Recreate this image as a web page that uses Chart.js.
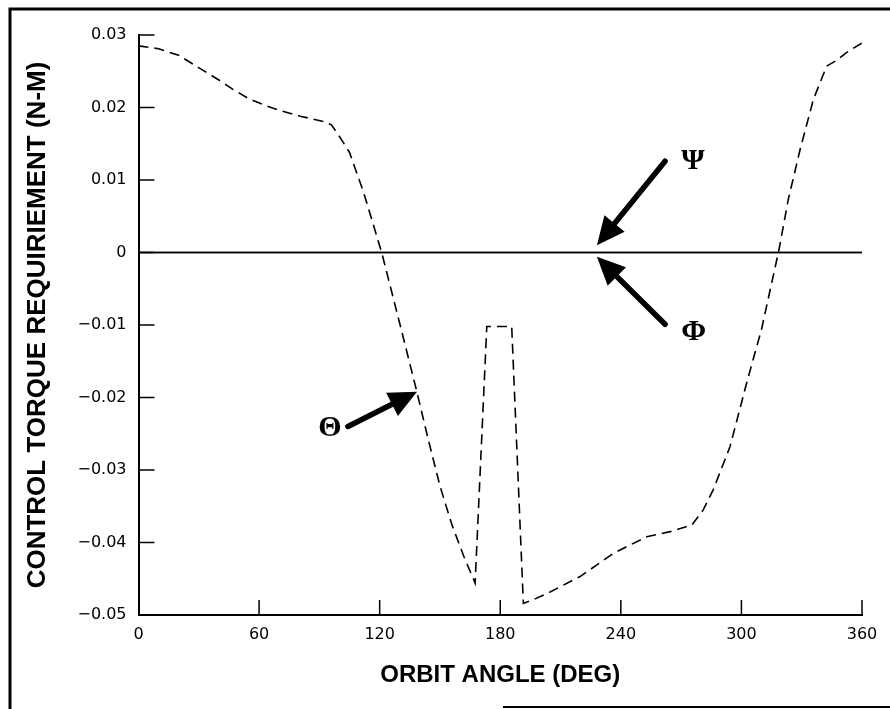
<!DOCTYPE html>
<html lang="en">
<head>
<meta charset="UTF-8">
<title>Control Torque Requirement</title>
<script src="https://cdn.jsdelivr.net/npm/chart.js"></script>
<style>
  html, body { margin: 0; padding: 0; background: #fff; }
  #caixa { position: relative; width: 890px; height: 709px; }
</style>
</head>
<body>

<div id="caixa">
  <canvas id="grafico"></canvas>
</div>

<script>
// pitch torque (theta) over one orbit, N-m
const angulos = [0, 10, 20, 30.5, 40, 47, 55, 63.8, 70.4, 80.4, 87, 93, 96, 100, 105, 112, 121, 130,
  138.5, 144, 150, 156, 162, 167.5, 173.3, 185.7, 191.5, 196.4, 205, 219.7, 236.3, 252.9, 264.5,
  275.3, 281, 286, 294.3, 302.6, 310, 318.7, 323.3, 329.2, 335.8, 342.4, 347.4, 352.4, 360]
const torqueTheta = [0.0285, 0.0281, 0.0272, 0.0254, 0.0238, 0.0225, 0.0212, 0.0202, 0.0196, 0.0188,
  0.0184, 0.0180, 0.0176, 0.0160, 0.0138, 0.0083, 0.0000, -0.0098, -0.0192, -0.0256, -0.0322,
  -0.0376, -0.0420, -0.0456, -0.0102, -0.0102, -0.0484, -0.0479, -0.0468, -0.0447, -0.0415,
  -0.0392, -0.0385, -0.0376, -0.0355, -0.0327, -0.0268, -0.0180, -0.0106, 0.0004, 0.0073,
  0.0142, 0.0211, 0.0257, 0.0265, 0.0276, 0.0289]

// roll (phi) and yaw (psi) stay at zero
const angulosZero = [0, 360]
const torquePsi = [0, 0]
const torquePhi = [0, 0]

const ticksX = [0, 60, 120, 180, 240, 300, 360]
const ticksY = [0.03, 0.02, 0.01, 0, -0.01, -0.02, -0.03, -0.04, -0.05]

function pontos(xs, ys) {
  return xs.map(function (x, i) { return { x: x, y: ys[i] } })
}

// arrows pointing at each curve: [tail angle, tail torque, tip angle, tip torque]
const setas = [
  { txt: 'Ψ', seta: [262, 0.0126, 228.1, 0.0010], rotulo: [270, 0.0126], lado: 'left' },
  { txt: 'Φ', seta: [262, -0.0099, 228.1, -0.0006], rotulo: [270, -0.0110], lado: 'left' },
  { txt: 'Θ', seta: [104.2, -0.0240, 138.6, -0.0192], rotulo: [101, -0.0242], lado: 'right' }
]

function desenharSeta(ctx, x1, y1, x2, y2) {
  const ang = Math.atan2(y2 - y1, x2 - x1)
  const comp = 28
  const larg = 13
  const bx = x2 - comp * Math.cos(ang)
  const by = y2 - comp * Math.sin(ang)
  ctx.beginPath()
  ctx.lineWidth = 5.5
  ctx.lineCap = 'round'
  ctx.moveTo(x1, y1)
  ctx.lineTo(bx, by)
  ctx.stroke()
  ctx.beginPath()
  ctx.moveTo(x2, y2)
  ctx.lineTo(bx + larg * Math.sin(ang), by - larg * Math.cos(ang))
  ctx.lineTo(bx - larg * Math.sin(ang), by + larg * Math.cos(ang))
  ctx.closePath()
  ctx.fill()
}

const extras = {
  id: 'extras',
  afterDraw(chart) {
    const ctx = chart.ctx
    const sx = chart.scales.x
    const sy = chart.scales.y
    ctx.save()
    ctx.strokeStyle = '#000'
    ctx.fillStyle = '#000'

    // tick marks pointing into the plot
    ctx.lineWidth = 1.5
    ticksX.forEach(function (v) {
      const px = sx.getPixelForValue(v)
      if (v === 0) return
      ctx.beginPath()
      ctx.moveTo(px, sy.bottom)
      ctx.lineTo(px, sy.bottom - 15)
      ctx.stroke()
    })
    ticksY.forEach(function (v) {
      const py = sy.getPixelForValue(v)
      if (v === -0.05) return
      ctx.beginPath()
      ctx.moveTo(sx.left, py)
      ctx.lineTo(sx.left + 16, py)
      ctx.stroke()
    })

    // frame around the figure
    ctx.lineWidth = 3
    ctx.beginPath()
    ctx.moveTo(10, 709)
    ctx.lineTo(10, 9)
    ctx.lineTo(890, 9)
    ctx.stroke()
    ctx.lineWidth = 2
    ctx.beginPath()
    ctx.moveTo(503, 707)
    ctx.lineTo(890, 707)
    ctx.stroke()

    // arrows and greek labels
    setas.forEach(function (s) {
      desenharSeta(ctx,
        sx.getPixelForValue(s.seta[0]), sy.getPixelForValue(s.seta[1]),
        sx.getPixelForValue(s.seta[2]), sy.getPixelForValue(s.seta[3]))
      ctx.font = 'bold 30px "Liberation Serif", "DejaVu Serif", serif'
      ctx.textAlign = s.lado
      ctx.textBaseline = 'middle'
      ctx.fillText(s.txt, sx.getPixelForValue(s.rotulo[0]), sy.getPixelForValue(s.rotulo[1]))
    })
    ctx.restore()
  }
}

Chart.defaults.color = '#000'
Chart.defaults.font.family = '"DejaVu Sans", "Liberation Sans", sans-serif'

const config = {
  type: 'line',
  data: {
    datasets: [
      {
        label: 'Θ',
        data: pontos(angulos, torqueTheta),
        borderColor: '#000',
        borderWidth: 1.6,
        borderDash: [10, 6],
        pointRadius: 0,
        tension: 0
      },
      {
        label: 'Ψ',
        data: pontos(angulosZero, torquePsi),
        borderColor: '#000',
        borderWidth: 1.6,
        pointRadius: 0
      },
      {
        label: 'Φ',
        data: pontos(angulosZero, torquePhi),
        borderColor: '#000',
        borderWidth: 1.6,
        pointRadius: 0
      }
    ]
  },
  options: {
    responsive: false,
    animation: false,
    layout: { padding: { top: 35, right: 28, left: 0, bottom: 0 } },
    plugins: { legend: { display: false }, tooltip: { enabled: false } },
    scales: {
      x: {
        type: 'linear',
        min: 0,
        max: 360,
        afterBuildTicks: function (s) { s.ticks = ticksX.map(function (v) { return { value: v } }) },
        afterFit: function (s) { s.height = 94 },
        grid: { display: false, drawTicks: false },
        border: { display: true, color: '#000', width: 2 },
        ticks: { padding: 10, maxRotation: 0, font: { size: 16 } },
        title: {
          display: true,
          text: 'ORBIT ANGLE (DEG)',
          font: { size: 24, weight: 'bold', family: '"Liberation Sans", Arial, sans-serif' },
          padding: { top: 0, bottom: 19 }
        }
      },
      y: {
        min: -0.05,
        max: 0.03,
        afterBuildTicks: function (s) { s.ticks = ticksY.map(function (v) { return { value: v } }) },
        afterFit: function (s) { s.width = 138.5 },
        grid: { display: false, drawTicks: false },
        border: { display: true, color: '#000', width: 2 },
        ticks: {
          padding: 12,
          font: { size: 16 },
          callback: function (v) {
            if (Math.abs(v) < 1e-9) return '0'
            return (v < 0 ? '−' : '') + Math.abs(v).toFixed(2)
          }
        },
        title: {
          display: true,
          text: 'CONTROL TORQUE REQUIRIEMENT (N-M)',
          font: { size: 26, weight: 'bold', family: '"Liberation Sans", Arial, sans-serif' },
          padding: { top: 22, bottom: 0 }
        }
      }
    }
  },
  plugins: [extras]
}

const canvas = document.getElementById('grafico')
canvas.width = 890
canvas.height = 709
const grafico = new Chart(canvas, config)
</script>
</body>
</html>
